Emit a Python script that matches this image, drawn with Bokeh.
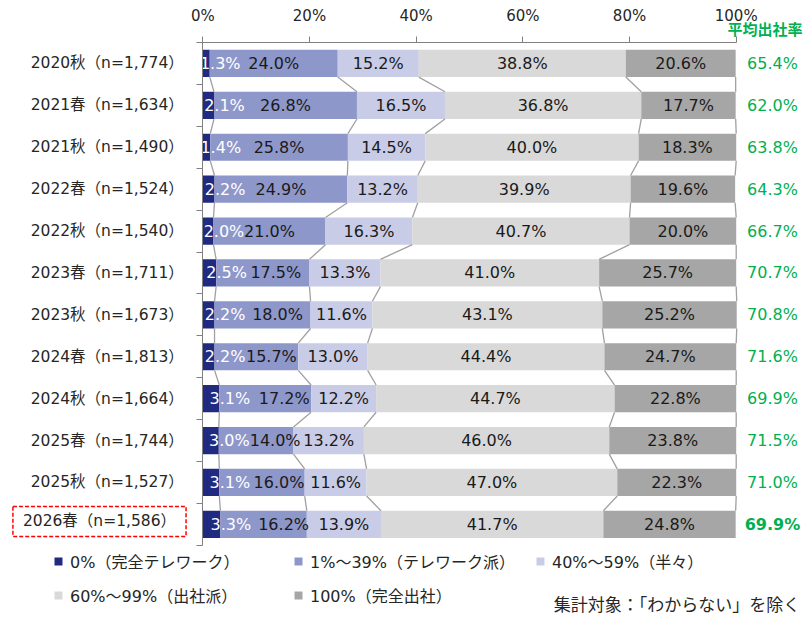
import numpy as np
from bokeh.plotting import figure
from bokeh.models import (ColumnDataSource, Range1d, FixedTicker, Label, Legend, LegendItem)
from bokeh.core.properties import value
from bokeh.embed import file_html
from bokeh.resources import INLINE

# ---------------- data ----------------
categories = ["2020秋（n=1,774）", "2021春（n=1,634）", "2021秋（n=1,490）", "2022春（n=1,524）",
              "2022秋（n=1,540）", "2023春（n=1,711）", "2023秋（n=1,673）", "2024春（n=1,813）",
              "2024秋（n=1,664）", "2025春（n=1,744）", "2025秋（n=1,527）", "2026春（n=1,586）"]
full_tele   = [1.3, 2.1, 1.4, 2.2, 2.0, 2.5, 2.2, 2.2, 3.1, 3.0, 3.1, 3.3]
tele_lean   = [24.0, 26.8, 25.8, 24.9, 21.0, 17.5, 18.0, 15.7, 17.2, 14.0, 16.0, 16.2]
half_half   = [15.2, 16.5, 14.5, 13.2, 16.3, 13.3, 11.6, 13.0, 12.2, 13.2, 11.6, 13.9]
office_lean = [38.8, 36.8, 40.0, 39.9, 40.7, 41.0, 43.1, 44.4, 44.7, 46.0, 47.0, 41.7]
full_office = [20.6, 17.7, 18.3, 19.6, 20.0, 25.7, 25.2, 24.7, 22.8, 23.8, 22.3, 24.8]
avg_rate    = [65.4, 62.0, 63.8, 64.3, 66.7, 70.7, 70.8, 71.6, 69.9, 71.5, 71.0, 69.9]
series_names = ["0%（完全テレワーク）", "1%～39%（テレワーク派）", "40%～59%（半々）",
                "60%～99%（出社派）", "100%（完全出社）"]
x_ticks = [0, 20, 40, 60, 80, 100]
x_tick_labels = ["0%", "20%", "40%", "60%", "80%", "100%"]
avg_title = "平均出社率"
note_text = "集計対象：「わからない」を除く"

# ---------------- styles ----------------
colors = ["#1F2A80", "#8E97CA", "#C9CCE6", "#D9D9D9", "#A6A6A6"]
label_colors = ["white", "#1a1a1a", "#1a1a1a", "#1a1a1a", "#1a1a1a"]
# label nudges (px) used in the original for the narrow 1%~39% segments
lean_label_shift = [0, 0, 0, 0, 0, 13, 15, 15, 19, 19, 17, 20]
GREEN = "#00B050"
FONT = "DejaVu Sans, Noto Sans CJK JP"
TXT = "#262626"
AX = "#808080"
BAR_H = 0.65

W, H = 810, 619
PX_PER_PCT = 5.334
X0_PX = 202.3          # screen x of 0 %
ROW_PX = 41.9
TOP_PX = 42.0          # screen y of the top axis line

n = len(categories)
series = [full_tele, tele_lean, half_half, office_lean, full_office]
rows = list(range(n))

x_start = -X0_PX / PX_PER_PCT
y_top = -0.5 - TOP_PX / ROW_PX
p = figure(width=W, height=H,
           x_range=Range1d(x_start, x_start + W / PX_PER_PCT),
           y_range=Range1d(y_top + H / ROW_PX, y_top),
           x_axis_location="above", output_backend="svg", toolbar_location=None,
           min_border=0, min_border_left=0, min_border_right=0,
           min_border_top=0, min_border_bottom=0)
p.xgrid.visible = False
p.ygrid.visible = False
p.outline_line_color = None

# ---------------- stacked bars ----------------
arr = np.array(series, dtype=float)
cum = np.vstack([np.zeros(n), np.cumsum(arr, axis=0)])
renderers = []
sources = []
for k in range(len(series)):
    src = ColumnDataSource(dict(
        y=rows, left=cum[k], right=cum[k + 1],
        mid=(cum[k] + cum[k + 1]) / 2,
        lab=[f"{v:.1f}%" for v in series[k]],
        dx=(lean_label_shift if k == 1 else [0] * n)))
    sources.append(src)
    r = p.hbar(y="y", left="left", right="right", height=BAR_H, source=src,
               fill_color=colors[k], line_color=None)
    renderers.append(r)

# ---------------- connector lines ----------------
x0s, y0s, x1s, y1s = [], [], [], []
for k in range(1, len(series) + 1):
    for i in range(n - 1):
        x0s.append(cum[k][i]); y0s.append(i + BAR_H / 2)
        x1s.append(cum[k][i + 1]); y1s.append(i + 1 - BAR_H / 2)
p.segment(x0=x0s, y0=y0s, x1=x1s, y1=y1s, line_color="#A0A0A0", line_width=1.3)

# ---------------- bar labels (drawn after all bars) ----------------
for k, src in enumerate(sources):
    if k == 0:
        p.text(x="right", y="y", text="lab", source=src, x_offset=10.5,
               text_align="center", text_baseline="middle",
               text_font=value(FONT), text_font_size="16px", text_color=label_colors[k])
    else:
        p.text(x="mid", y="y", text="lab", source=src, x_offset="dx",
               text_align="center", text_baseline="middle",
               text_font=value(FONT), text_font_size="16px", text_color=label_colors[k])

# ---------------- average rate column ----------------
styles = ["normal"] * (n - 1) + ["bold"]
avg_src = ColumnDataSource(dict(x=[106.8] * n, y=rows,
                                t=[f"{v:.1f}%" for v in avg_rate], s=styles))
p.text(x="x", y="y", text="t", source=avg_src, text_align="center", text_baseline="middle",
       text_font=value(FONT), text_font_size="16px", text_color=GREEN, text_font_style="s")
p.add_layout(Label(x=105.4, y=-0.80, text=avg_title, text_align="center", text_baseline="middle",
                   text_font=FONT, text_font_size="15px", text_font_style="bold",
                   text_color=GREEN))

# ---------------- axes ----------------
xa = p.xaxis[0]
xa.fixed_location = -0.5
xa.ticker = FixedTicker(ticks=x_ticks)
xa.major_label_overrides = {t: l for t, l in zip(x_ticks, x_tick_labels)}
xa.bounds = (0, 100)
xa.major_tick_out = 6
xa.major_tick_in = 0
xa.minor_tick_out = 0
xa.minor_tick_in = 0
xa.axis_line_color = AX
xa.major_tick_line_color = AX
xa.major_label_text_font = FONT
xa.major_label_text_font_size = "15px"
xa.major_label_text_color = TXT
xa.major_label_standoff = 12

ya = p.yaxis[0]
ya.fixed_location = 0
ya.ticker = FixedTicker(ticks=rows, minor_ticks=[i - 0.5 for i in range(n + 1)])
overrides = {i: categories[i] for i in range(n)}
overrides[n - 1] = ""
ya.major_label_overrides = overrides
ya.bounds = (-0.5, n - 0.5)
ya.major_tick_out = 0
ya.major_tick_in = 0
ya.minor_tick_out = 6
ya.minor_tick_in = 0
ya.axis_line_color = AX
ya.minor_tick_line_color = AX
ya.major_label_text_font = FONT
ya.major_label_text_font_size = "15.5px"
ya.major_label_text_color = TXT
ya.major_label_standoff = 13

# highlighted latest category
p.add_layout(Label(x=-19.37, y=n - 1.07, text=categories[-1], text_align="center",
                   text_baseline="middle", text_font=FONT, text_font_size="15.5px",
                   text_color=TXT, border_line_color="#FF0000", border_line_dash="4 2",
                   border_line_width=1.5, padding=(10, 6), background_fill_color="white"))

# ---------------- legend ----------------
legend_pos = [(53, 46), (293, 46), (535, 46), (53, 12), (293, 12)]
for k in range(len(series)):
    leg = Legend(items=[LegendItem(label=series_names[k], renderers=[renderers[k]])],
                 location=legend_pos[k], orientation="horizontal",
                 glyph_width=10, glyph_height=10, label_standoff=7, padding=0, margin=0,
                 spacing=0, border_line_color=None, background_fill_alpha=0,
                 label_text_font=FONT, label_text_font_size="16px", label_text_color=TXT,
                 label_height=20)
    p.add_layout(leg)

# ---------------- note ----------------
p.add_layout(Label(x=112.0, y=12.93, text=note_text, text_align="right", text_baseline="middle",
                   text_font=FONT, text_font_size="17px", text_color=TXT))

open("out.html", "w").write(file_html(p, INLINE))
